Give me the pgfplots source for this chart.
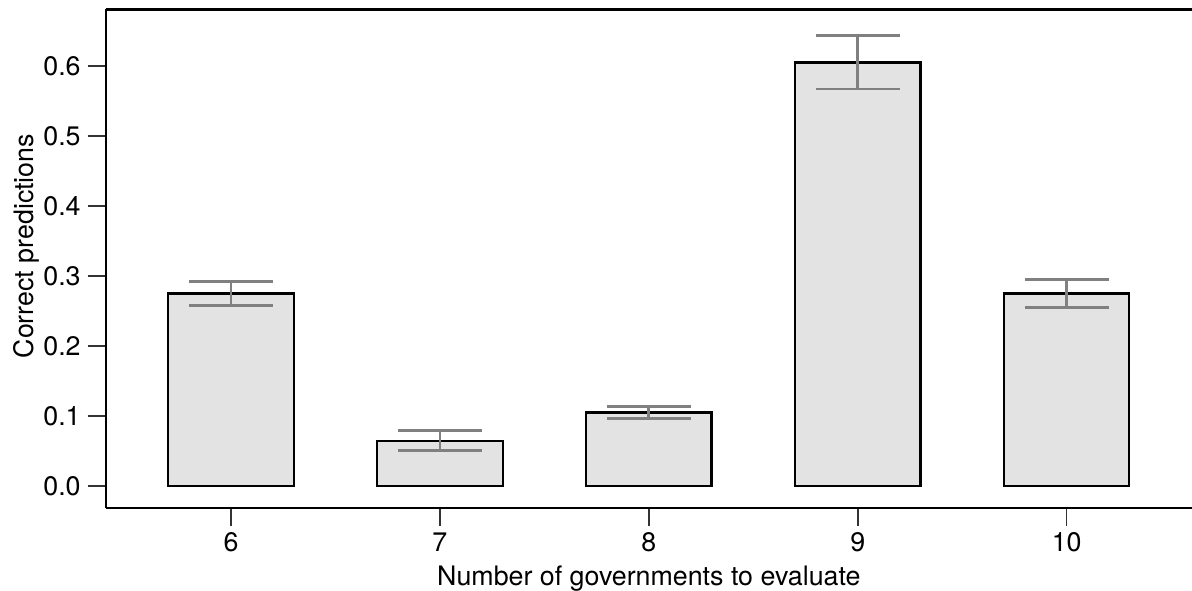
\documentclass[border=0pt]{standalone}
\usepackage{fontspec}
\setmainfont{TeX Gyre Heros}
\usepackage{pgfplots}
\pgfplotsset{compat=1.18}
\definecolor{barfill}{HTML}{E3E3E3}
\definecolor{errgray}{HTML}{808080}
\definecolor{tickgray}{HTML}{333333}
\begin{document}
\begin{tikzpicture}
\begin{axis}[
  scale only axis,
  width=543.15pt, height=249.1pt,
  xmin=5.4, xmax=10.6,
  ymin=-0.031, ymax=0.6807,
  separate axis lines,
  axis x line*=box,
  axis y line*=left,
  axis line style={black, line width=1.1pt},
  xtick={6,7,8,9,10},
  ytick={0,0.1,0.2,0.3,0.4,0.5,0.6},
  xtick pos=left, ytick pos=left,
  tick align=outside,
  major tick length=9pt,
  tick style={tickgray, line width=0.8pt},
  yticklabel style={/pgf/number format/.cd, fixed, fixed zerofill, precision=1, assume math mode=true},
  xticklabel style={/pgf/number format/assume math mode=true},
  ticklabel style={font=\fontsize{13.4}{15}\selectfont},
  label style={font=\fontsize{13.4}{15}\selectfont},
  xlabel={Number of governments to evaluate},
  ylabel={Correct predictions},
  ylabel style={at={(ticklabel cs:0.525)}, yshift=-5pt},
  ybar, bar width=0.6,
]
\addplot[
  draw=black, line width=1.1pt, fill=barfill,
  error bars/.cd, y dir=both, y explicit,
  error bar style={errgray, line width=1.4pt},
  error mark options={errgray, line width=1.4pt, mark size=21pt, rotate=90},
] coordinates {
  (6,0.275) +- (0,0.017)
  (7,0.0648) +- (0,0.0146)
  (8,0.105) +- (0,0.0085)
  (9,0.605) +- (0,0.038)
  (10,0.275) +- (0,0.0205)
};
\end{axis}
\pgfresetboundingbox
\path[use as bounding box] ([xshift=-52.85pt, yshift=-41.15pt]current axis.south west) rectangle ([yshift=4.75pt]current axis.north east);
\end{tikzpicture}
\end{document}
